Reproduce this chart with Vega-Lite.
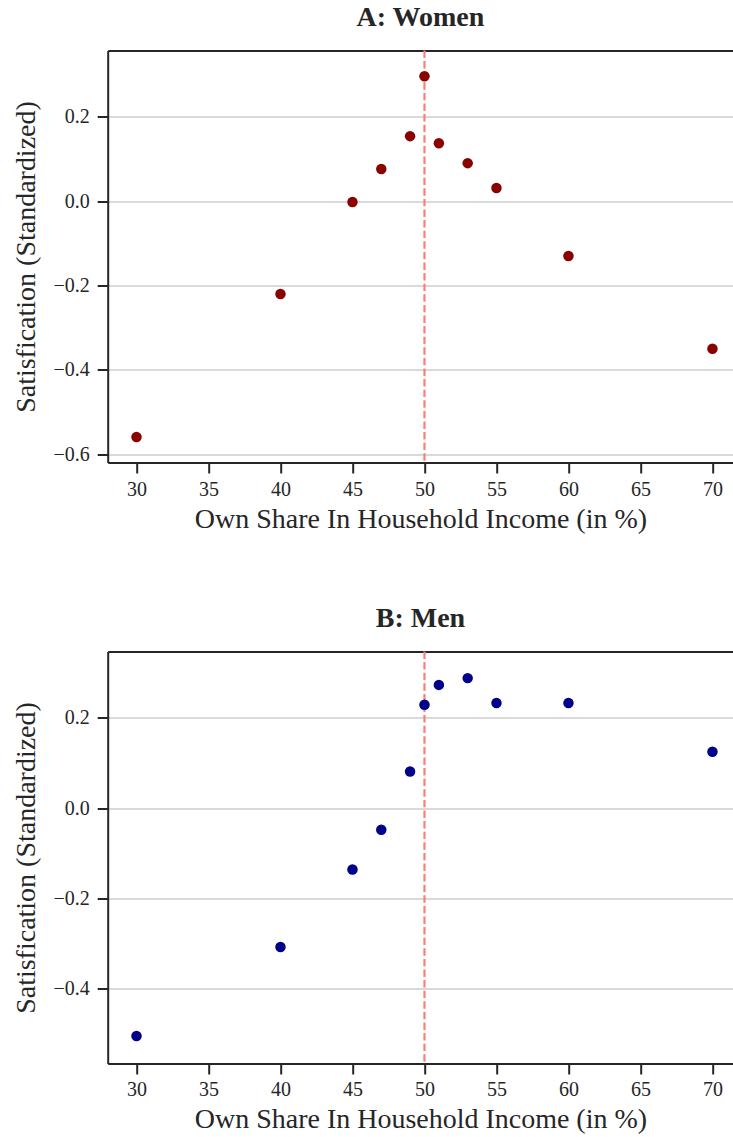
{
  "$schema": "https://vega.github.io/schema/vega-lite/v6.json",
  "background": "white",
  "padding": {"left": 12.7, "top": 3.5, "right": 0, "bottom": 0},
  "spacing": 71,
  "config": {
    "font": "Liberation Serif",
    "view": {"stroke": null},
    "axis": {
      "labelFont": "Liberation Serif",
      "labelFontSize": 20,
      "labelColor": "#262626",
      "titleFont": "Liberation Serif",
      "titleFontSize": 28,
      "titleFontWeight": "normal",
      "titleColor": "#262626",
      "tickColor": "#262626",
      "tickWidth": 2,
      "tickSize": 10.5,
      "domainColor": "#262626",
      "domainWidth": 2,
      "gridColor": "#cccccc",
      "gridWidth": 1.3
    },
    "title": {
      "font": "Liberation Serif",
      "fontSize": 28,
      "fontWeight": "bold",
      "color": "#262626",
      "offset": 17.5,
      "anchor": "middle"
    }
  },
  "datasets": {
    "women": [
      {"share": 30, "satisfaction": -0.559},
      {"share": 40, "satisfaction": -0.220},
      {"share": 45, "satisfaction": -0.002},
      {"share": 47, "satisfaction": 0.076},
      {"share": 49, "satisfaction": 0.154},
      {"share": 50, "satisfaction": 0.296},
      {"share": 51, "satisfaction": 0.137},
      {"share": 53, "satisfaction": 0.090},
      {"share": 55, "satisfaction": 0.031},
      {"share": 60, "satisfaction": -0.130},
      {"share": 70, "satisfaction": -0.350}
    ],
    "men": [
      {"share": 30, "satisfaction": -0.505},
      {"share": 40, "satisfaction": -0.308},
      {"share": 45, "satisfaction": -0.136},
      {"share": 47, "satisfaction": -0.048},
      {"share": 49, "satisfaction": 0.081},
      {"share": 50, "satisfaction": 0.229},
      {"share": 51, "satisfaction": 0.273},
      {"share": 53, "satisfaction": 0.288},
      {"share": 55, "satisfaction": 0.233},
      {"share": 60, "satisfaction": 0.233},
      {"share": 70, "satisfaction": 0.125}
    ]
  },
  "vconcat": [
    {
      "title": "A: Women",
      "width": 625.5,
      "height": 412,
      "resolve": {"axis": {"x": "independent"}},
      "layer": [
        {
          "data": {"values": [{"ref": 50}]},
          "mark": {"type": "rule", "color": "#FA8072", "strokeDash": [7.4, 3.2], "strokeWidth": 2.2},
          "encoding": {
            "x": {"field": "ref", "type": "quantitative",
                  "axis": {"orient": "top", "labels": false, "ticks": false, "title": null, "grid": false, "domain": true}}
          }
        },
        {
          "data": {"name": "women"},
          "mark": {"type": "circle", "size": 110, "color": "#8B0000", "opacity": 1},
          "encoding": {
            "x": {"field": "share", "type": "quantitative",
                  "scale": {"domain": [28, 71.44], "nice": false, "zero": false},
                  "axis": {"orient": "bottom", "values": [30, 35, 40, 45, 50, 55, 60, 65, 70], "grid": false,
                           "title": "Own Share In Household Income (in %)", "labelPadding": 6, "titlePadding": 6}},
            "y": {"field": "satisfaction", "type": "quantitative",
                  "scale": {"domain": [-0.6196, 0.357], "nice": false, "zero": false},
                  "axis": {"values": [-0.6, -0.4, -0.2, 0, 0.2], "format": ".1f", "grid": true,
                           "title": "Satisfication (Standardized)", "labelPadding": 8, "titlePadding": 12}}
          }
        }
      ]
    },
    {
      "title": "B: Men",
      "width": 625.5,
      "height": 412,
      "resolve": {"axis": {"x": "independent"}},
      "layer": [
        {
          "data": {"values": [{"ref": 50}]},
          "mark": {"type": "rule", "color": "#FA8072", "strokeDash": [7.4, 3.2], "strokeWidth": 2.2},
          "encoding": {
            "x": {"field": "ref", "type": "quantitative",
                  "axis": {"orient": "top", "labels": false, "ticks": false, "title": null, "grid": false, "domain": true}}
          }
        },
        {
          "data": {"name": "men"},
          "mark": {"type": "circle", "size": 110, "color": "#00008B", "opacity": 1},
          "encoding": {
            "x": {"field": "share", "type": "quantitative",
                  "scale": {"domain": [28, 71.44], "nice": false, "zero": false},
                  "axis": {"orient": "bottom", "values": [30, 35, 40, 45, 50, 55, 60, 65, 70], "grid": false,
                           "title": "Own Share In Household Income (in %)", "labelPadding": 6, "titlePadding": 6}},
            "y": {"field": "satisfaction", "type": "quantitative",
                  "scale": {"domain": [-0.566, 0.347], "nice": false, "zero": false},
                  "axis": {"values": [-0.4, -0.2, 0, 0.2], "format": ".1f", "grid": true,
                           "title": "Satisfication (Standardized)", "labelPadding": 8, "titlePadding": 12}}
          }
        }
      ]
    }
  ]
}
